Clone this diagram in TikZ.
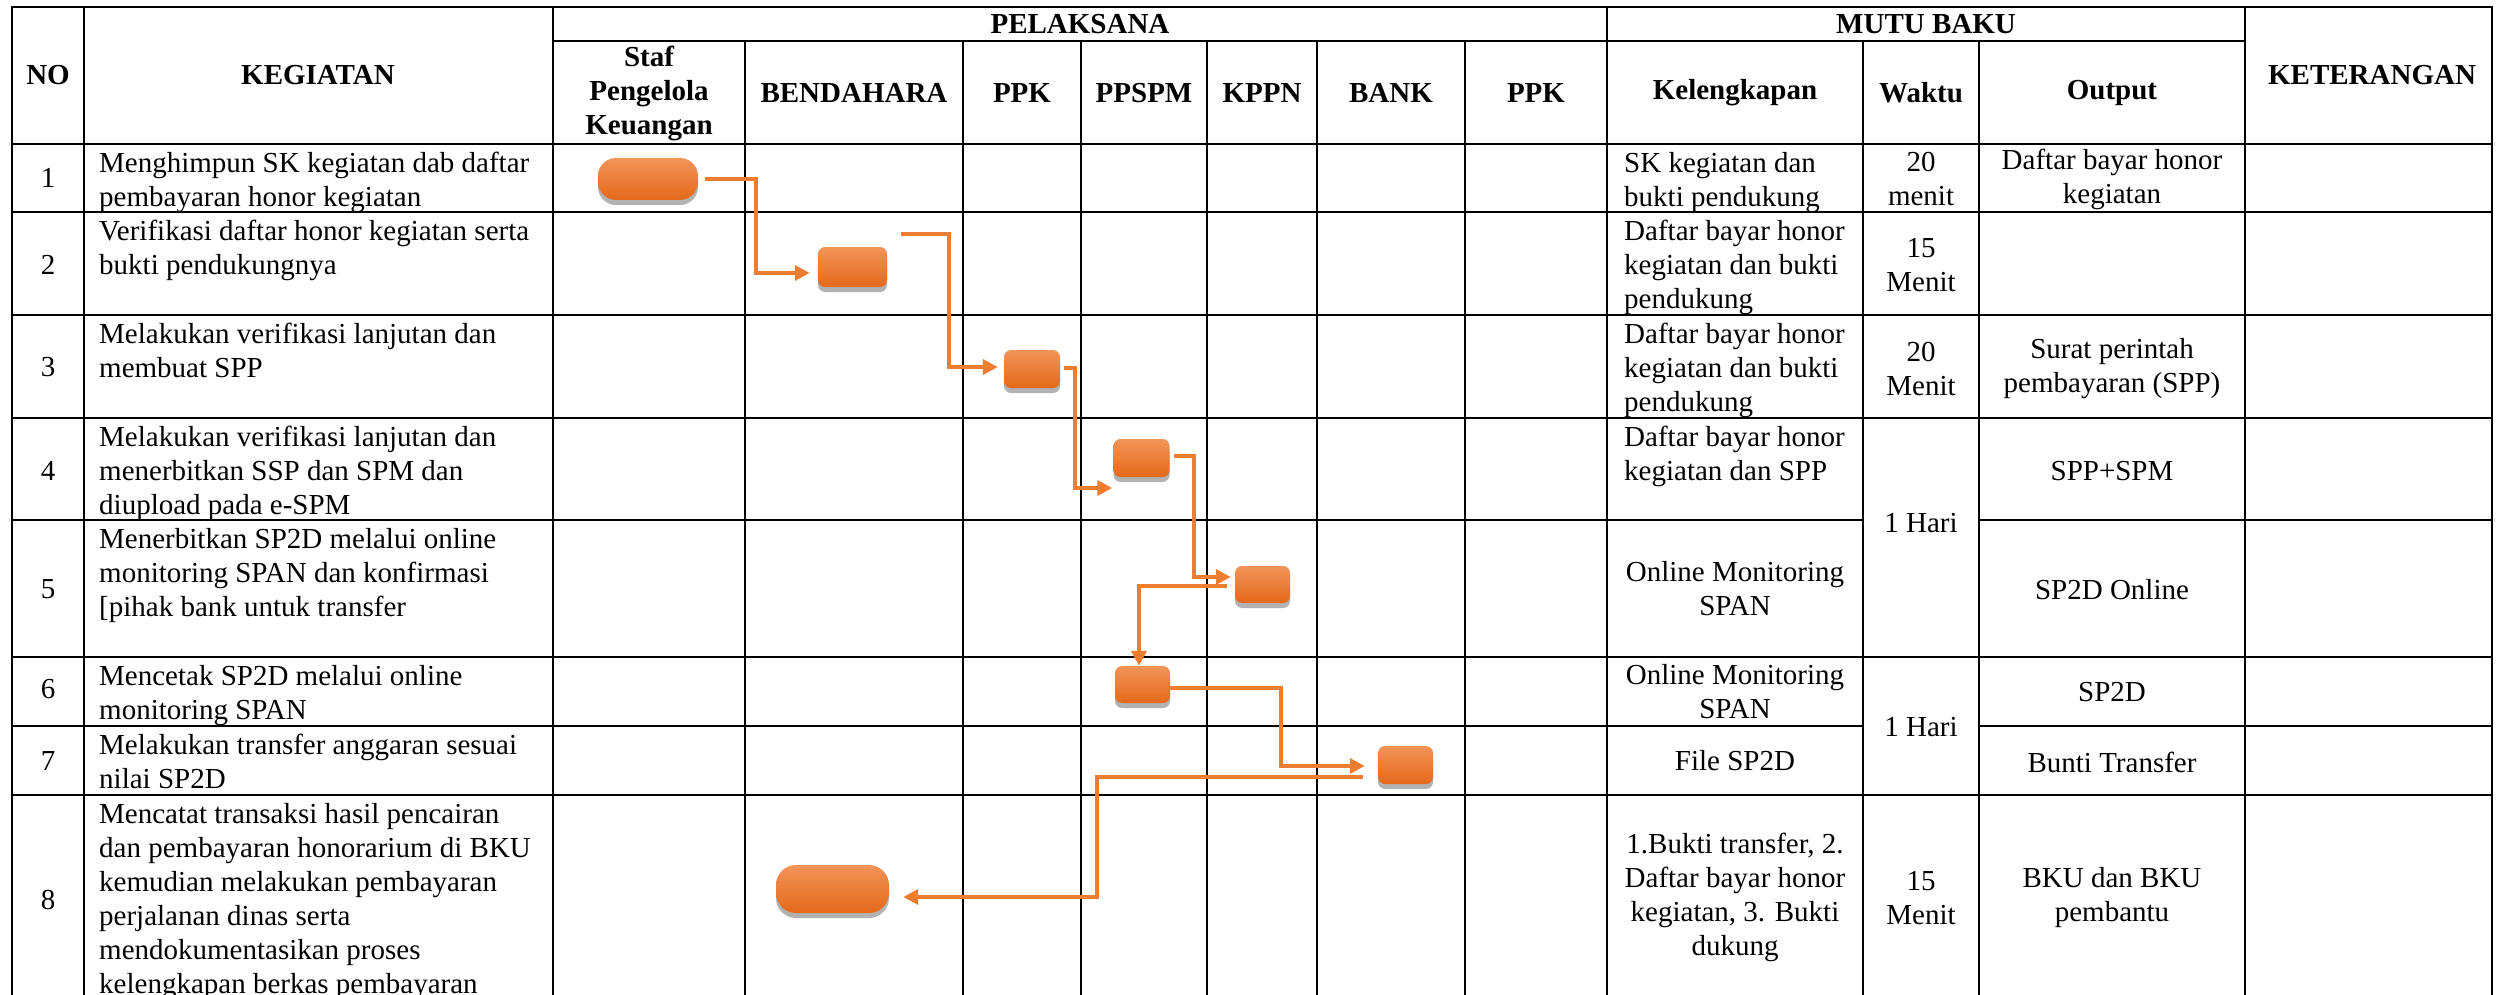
\documentclass[tikz,border=0pt]{standalone}
\usepackage{fontspec}
\setmainfont{Liberation Serif}
\usepackage{tikz}
\usetikzlibrary{arrows.meta, calc, shadows}
\usepackage{xcolor}

\definecolor{flowOrange}{HTML}{ED7D31}
\definecolor{procTop}{HTML}{F29458}
\definecolor{procBot}{HTML}{E4691A}

\begin{document}
\begin{tikzpicture}[
    x=1pt, y=-1pt,
    txt/.style={inner sep=0pt, font=\fontsize{29}{34}\selectfont, align=center},
    head/.style={txt, font=\fontsize{29}{34}\selectfont\bfseries},
    lefttxt/.style={txt, align=left, anchor=north west},
    grid/.style={line width=2.5pt, line cap=rect},
    proc/.style={rectangle, rounded corners=7pt, inner sep=0pt, minimum width=56pt, minimum height=38pt, top color=procTop, bottom color=procBot, drop shadow={shadow xshift=0pt, shadow yshift=-5pt, opacity=0.3, fill=black}},
    wideproc/.style={proc, rounded corners=18pt},
    flow/.style={draw=flowOrange, line width=4pt, -{Triangle[length=15pt, width=15pt]}},
    ]
\useasboundingbox (0,0) rectangle (2500,995);

% Table lines
\draw[grid] (12,7) -- (2492,7);
\draw[grid] (553,41) -- (2245,41);
\draw[grid] (12,144) -- (2492,144);
\draw[grid] (12,212) -- (2492,212);
\draw[grid] (12,315) -- (2492,315);
\draw[grid] (12,418) -- (2492,418);
\draw[grid] (12,520) -- (1863,520) (1979,520) -- (2492,520);
\draw[grid] (12,657) -- (2492,657);
\draw[grid] (12,726) -- (1863,726) (1979,726) -- (2492,726);
\draw[grid] (12,795) -- (2492,795);
\draw[grid] (12,7) -- (12,995) (84,7) -- (84,995) (553,7) -- (553,995);
\draw[grid] (1607,7) -- (1607,995) (2245,7) -- (2245,995) (2492,7) -- (2492,995);
\draw[grid] (745,41) -- (745,995) (963,41) -- (963,995) (1081,41) -- (1081,995);
\draw[grid] (1207,41) -- (1207,995) (1317,41) -- (1317,995) (1465,41) -- (1465,995);
\draw[grid] (1863,41) -- (1863,995) (1979,41) -- (1979,995);

% Header
\node[head] (hno) at (48,75) {NO};
\node[head] (hkeg) at (318,75) {KEGIATAN};
\node[head] (hpel) at (1080,24) {PELAKSANA};
\node[head] (hmutu) at (1926,24) {MUTU BAKU};
\node[head] (hket) at (2372,75) {KETERANGAN};
\node[head] (hstaf) at (649,93) {Staf\\Pengelola\\Keuangan};
\node[head] (hbend) at (854,93) {BENDAHARA};
\node[head] (hppk) at (1022,93) {PPK};
\node[head] (hppspm) at (1144,93) {PPSPM};
\node[head] (hkppn) at (1262,93) {KPPN};
\node[head] (hbank) at (1391,93) {BANK};
\node[head] (hppkb) at (1536,93) {PPK};
\node[head] (hleng) at (1735,93) {Kelengkapan};
\node[head] (hwaktu) at (1921,93) {Waktu};
\node[head] (hout) at (2112,93) {Output};

% Rows
\node[txt] (n1) at (48,178) {1};
\node[lefttxt] (k1) at (99,152) {Menghimpun SK kegiatan dab daftar\\pembayaran honor kegiatan};
\node[lefttxt] (l1) at (1624,152) {SK kegiatan dan\\bukti pendukung};
\node[txt] (w1) at (1921,179) {20\\menit};
\node[txt] (o1) at (2112,179) {Daftar bayar honor\\kegiatan};

\node[txt] (n2) at (48,265) {2};
\node[lefttxt] (k2) at (99,220) {Verifikasi daftar honor kegiatan serta\\bukti pendukungnya};
\node[lefttxt] (l2) at (1624,220) {Daftar bayar honor\\kegiatan dan bukti\\pendukung};
\node[txt] (w2) at (1921,265) {15\\Menit};

\node[txt] (n3) at (48,367) {3};
\node[lefttxt] (k3) at (99,323) {Melakukan verifikasi lanjutan dan\\membuat SPP};
\node[lefttxt] (l3) at (1624,323) {Daftar bayar honor\\kegiatan dan bukti\\pendukung};
\node[txt] (w3) at (1921,369) {20\\Menit};
\node[txt] (o3) at (2112,369) {Surat perintah\\pembayaran (SPP)};

\node[txt] (n4) at (48,471) {4};
\node[lefttxt] (k4) at (99,426) {Melakukan verifikasi lanjutan dan\\menerbitkan SSP dan SPM dan\\diupload pada e-SPM};
\node[lefttxt] (l4) at (1624,426) {Daftar bayar honor\\kegiatan dan SPP};
\node[txt] (o4) at (2112,471) {SPP+SPM};
\node[txt] (w4) at (1921,523) {1 Hari};

\node[txt] (n5) at (48,589) {5};
\node[lefttxt] (k5) at (99,528) {Menerbitkan SP2D melalui online\\monitoring SPAN dan konfirmasi\\{[}pihak bank untuk transfer};
\node[txt] (l5) at (1735,589) {Online Monitoring\\SPAN};
\node[txt] (o5) at (2112,590) {SP2D Online};

\node[txt] (n6) at (48,689) {6};
\node[lefttxt] (k6) at (99,665) {Mencetak SP2D melalui online\\monitoring SPAN};
\node[txt] (l6) at (1735,692) {Online Monitoring\\SPAN};
\node[txt] (o6) at (2112,692) {SP2D};
\node[txt] (w6) at (1921,727) {1 Hari};

\node[txt] (n7) at (48,761) {7};
\node[lefttxt] (k7) at (99,734) {Melakukan transfer anggaran sesuai\\nilai SP2D};
\node[txt] (l7) at (1735,761) {File SP2D};
\node[txt] (o7) at (2112,762) {Bunti Transfer};

\node[txt] (n8) at (48,900) {8};
\node[lefttxt] (k8) at (99,803) {Mencatat transaksi hasil pencairan\\dan pembayaran honorarium di BKU\\kemudian melakukan pembayaran\\perjalanan dinas serta\\mendokumentasikan proses\\kelengkapan berkas pembayaran};
\node[txt] (l8) at (1735,897) {1.Bukti transfer, 2.\\Daftar bayar honor\\kegiatan, 3. Bukti\\dukung};
\node[txt] (w8) at (1921,898) {15\\Menit};
\node[txt] (o8) at (2112,898) {BKU dan BKU\\pembantu};

% Process boxes
\node[wideproc, minimum width=100pt, minimum height=42pt] (p1) at (648,179) {};
\node[proc, minimum width=69pt, minimum height=40pt] (p2) at (852.5,267) {};
\node[proc] (p3) at (1032,369) {};
\node[proc] (p4) at (1141.5,458) {};
\node[proc, minimum width=55pt, minimum height=37pt] (p5) at (1262.5,584.5) {};
\node[proc, minimum width=55pt, minimum height=37pt] (p6) at (1142.5,684.5) {};
\node[proc, minimum width=55pt] (p7) at (1405.5,765) {};
\node[wideproc, minimum width=113pt, minimum height=48pt, rounded corners=20pt] (p8) at (832.5,889) {};

% Flow
\draw[flow] ([xshift=7pt]p1.east) -- ++(51,0) |- ([xshift=-8pt,yshift=-6pt]p2.west);
\draw[flow] ([xshift=14pt,yshift=33pt]p2.east) -- ++(48,0) |- ([xshift=-6pt,yshift=2pt]p3.west);
\draw[flow] ([xshift=4pt,yshift=1pt]p3.east) -- ++(11,0) |- ([xshift=-1pt,yshift=-30pt]p4.west);
\draw[flow] ([xshift=4pt,yshift=2pt]p4.east) -- ++(20,0) |- ([xshift=-4pt,yshift=7.5pt]p5.west);
\draw[flow] ([xshift=-8pt,yshift=-1.5pt]p5.west) -| ([xshift=-3.5pt]p6.north);
\draw[flow] ([yshift=-3.5pt]p6.east) -- ++(111,0) |- ([xshift=-13pt,yshift=-1pt]p7.west);
\draw[flow] ([xshift=-15pt,yshift=-12pt]p7.west) -- ++(-266,0) |- ([xshift=14pt,yshift=-8pt]p8.east);

\end{tikzpicture}
\end{document}
